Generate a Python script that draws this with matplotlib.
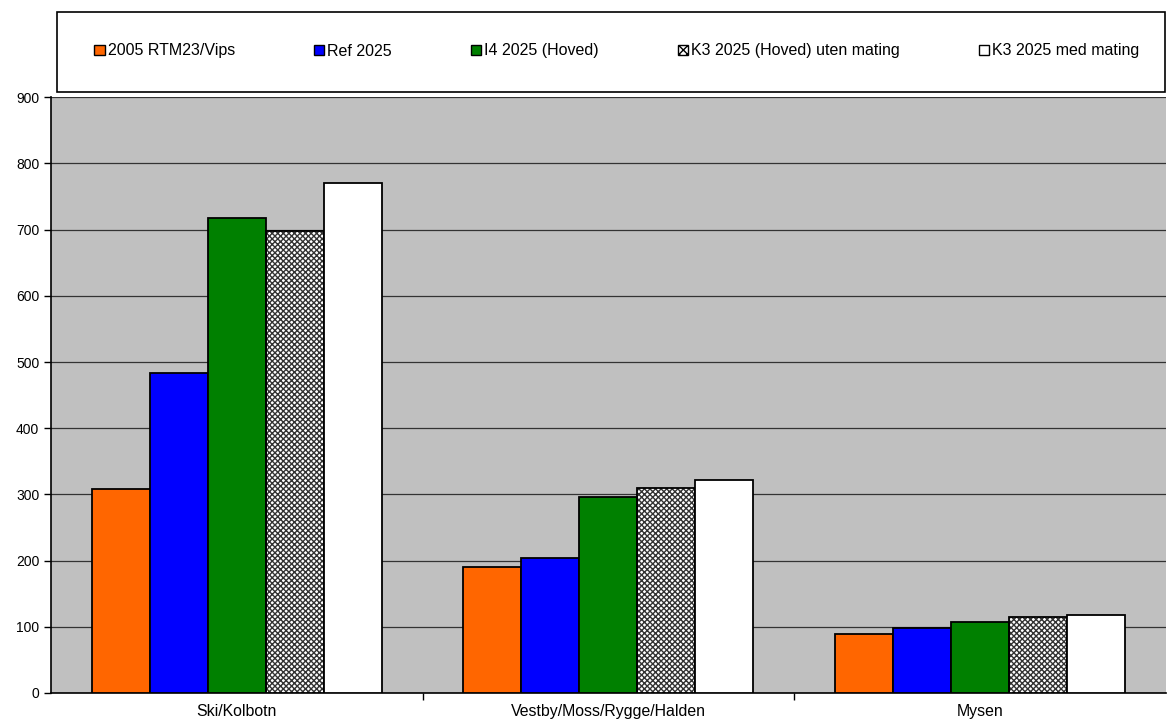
import matplotlib.pyplot as plt
import matplotlib.patches as mpatches
import numpy as np
from matplotlib.patches import Rectangle

plt.rcParams['font.family'] = ['Liberation Sans', 'DejaVu Sans']

categories = ['Ski/Kolbotn', 'Vestby/Moss/Rygge/Halden', 'Mysen']
series_names = ['2005 RTM23/Vips', 'Ref 2025', 'I4 2025 (Hoved)',
                'K3 2025 (Hoved) uten mating', 'K3 2025 med mating']
rtm_2005 = [308, 191, 89]
ref_2025 = [483, 204, 98]
i4_2025 = [717, 296, 107]
k3_uten = [698, 310, 115]
k3_med = [770, 322, 118]
y_ticks = [0, 100, 200, 300, 400, 500, 600, 700, 800, 900]

series = [rtm_2005, ref_2025, i4_2025, k3_uten, k3_med]
colors = ['#FF6600', '#0000FF', '#008000', '#FFFFFF', '#FFFFFF']
hatches = [None, None, None, 'xxxxxx', None]

fig = plt.figure(figsize=(11.67, 7.26), dpi=100)
ax = fig.add_axes([0.0437, 0.0455, 0.9553, 0.8205])
ax.set_facecolor('#C0C0C0')

x = np.arange(len(categories))
width = 0.156
for i, vals in enumerate(series):
    pos = x + (i - 2) * width
    if hatches[i]:
        # checkered fill drawn underneath the outlined bar
        ax.bar(pos, vals, width, color='#FFFFFF', edgecolor='#333333',
               hatch=hatches[i], linewidth=0, zorder=3)
    ax.bar(pos, vals, width, color=colors[i], fill=hatches[i] is None,
           edgecolor='black', linewidth=1.3, zorder=4, label=series_names[i])

ax.set_xlim(-0.5, 2.5)
ax.set_ylim(0, 900)
ax.set_yticks(y_ticks)
ax.tick_params(axis='y', labelsize=10, length=5, direction='out', width=1)
ax.set_xticks(x)
ax.set_xticklabels(categories, fontsize=11.4)
ax.tick_params(axis='x', which='major', length=0, pad=8)
ax.set_xticks([0.5, 1.5], minor=True)
ax.tick_params(axis='x', which='minor', length=5, width=1, direction='out')
ax.grid(axis='y', color='#333333', linewidth=0.9, zorder=1)
ax.set_axisbelow(True)
for s in ['top', 'right']:
    ax.spines[s].set_visible(False)
for s in ['left', 'bottom']:
    ax.spines[s].set_color('black')
    ax.spines[s].set_linewidth(1.2)

# legend box
box = Rectangle((57 / 1167, 1 - 92 / 726), 1108 / 1167, 80 / 726,
                transform=fig.transFigure, facecolor='white',
                edgecolor='black', linewidth=1.2)
fig.patches.append(box)

leg_handles = []
for i in range(5):
    leg_handles.append(mpatches.Patch(facecolor=colors[i], edgecolor='black',
                                      hatch=hatches[i] and 'xxxx', linewidth=1.0))
fig.legend(leg_handles, series_names, loc='center',
           bbox_to_anchor=(617 / 1167, 1 - 51 / 726),
           ncol=5, frameon=False, fontsize=11.5, handlelength=0.63,
           handleheight=0.63, handletextpad=0.2, columnspacing=4.95)

plt.savefig('out.png', dpi=100)
